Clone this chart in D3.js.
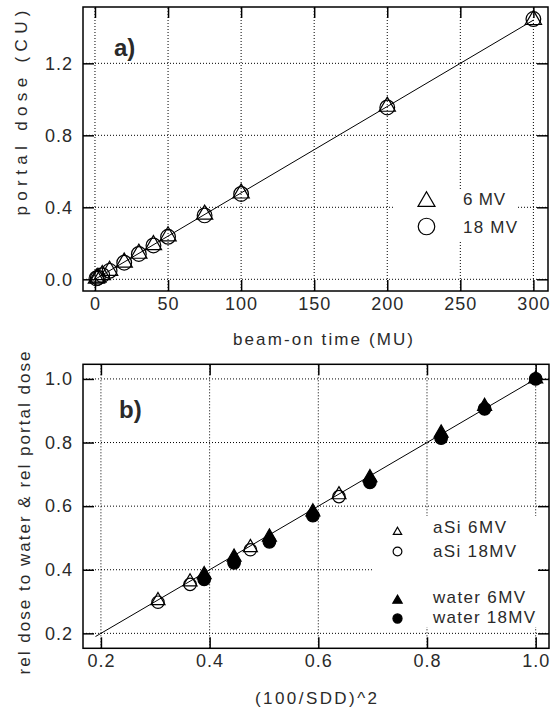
<!DOCTYPE html>
<html>
<head>
<meta charset="utf-8">
<script src="https://cdn.jsdelivr.net/npm/d3@7"></script>
<style>
body { margin: 0; background: #fff; }
text { font-family: "Liberation Sans", Arial, sans-serif; fill: #2a2a2a; }
</style>
</head>
<body>
<svg id="chart" width="551" height="717"></svg>
<script>
// panel a) portal dose against beam-on time
var muValues = [1, 2, 5, 10, 20, 30, 40, 50, 75, 100, 200, 300];
var dose6MV = [0.005, 0.010, 0.024, 0.048, 0.094, 0.143, 0.191, 0.240, 0.360, 0.478, 0.960, 1.442];
var dose18MV = [0.005, 0.009, 0.023, 0.047, 0.092, 0.141, 0.188, 0.236, 0.355, 0.474, 0.955, 1.446];
var fitA = [[0, 0], [300, 1.44]];
var ticksAx = [0, 50, 100, 150, 200, 250, 300];
var ticksAy = [0, 0.4, 0.8, 1.2];

// panel b) relative dose against inverse square of SDD
var sddAsi = [0.305, 0.364, 0.475, 0.638];
var relAsi6 = [0.303, 0.362, 0.470, 0.636];
var relAsi18 = [0.298, 0.354, 0.463, 0.630];
var sddWater = [0.390, 0.445, 0.510, 0.590, 0.695, 0.826, 0.906, 1.0];
var relWater6 = [0.385, 0.440, 0.503, 0.582, 0.690, 0.830, 0.914, 1.0];
var relWater18 = [0.370, 0.422, 0.488, 0.570, 0.675, 0.814, 0.906, 1.0];
var fitB = [[0.19, 0.19], [1.0, 1.0]];
var ticksB = [0.2, 0.4, 0.6, 0.8, 1.0];

var svg = d3.select("#chart");

function drawPanel(p) {
  var g = svg.append("g");
  var x = p.x, y = p.y;
  var x0 = x.range()[0], x1 = x.range()[1];
  var y0 = y.range()[0], y1 = y.range()[1];

  // dotted grid
  g.selectAll(".gx").data(p.xTicks).enter().append("line")
    .attr("x1", function(d) { return x(d); }).attr("x2", function(d) { return x(d); })
    .attr("y1", y0).attr("y2", y1)
    .attr("stroke", "#000").attr("stroke-dasharray", "1,2");
  g.selectAll(".gy").data(p.yTicks).enter().append("line")
    .attr("y1", function(d) { return y(d); }).attr("y2", function(d) { return y(d); })
    .attr("x1", x0).attr("x2", x1)
    .attr("stroke", "#000").attr("stroke-dasharray", "1,2");

  // legend box hides the grid behind it
  g.append("rect").attr("x", p.legendBox[0]).attr("y", p.legendBox[1])
    .attr("width", p.legendBox[2]).attr("height", p.legendBox[3]).attr("fill", "#fff");

  // axes with inward ticks on all four sides
  g.append("g").attr("transform", "translate(0," + y0 + ")")
    .call(d3.axisBottom(x).tickValues(p.xTicks).tickFormat(p.fmt).tickSizeInner(-11).tickSizeOuter(0).tickPadding(6));
  g.append("g").attr("transform", "translate(0," + y1 + ")")
    .call(d3.axisTop(x).tickValues(p.xTicks).tickFormat("").tickSizeInner(-11).tickSizeOuter(0));
  g.append("g").attr("transform", "translate(" + x0 + ",0)")
    .call(d3.axisLeft(y).tickValues(p.yTicks).tickFormat(d3.format(".1f")).tickSizeInner(-11).tickSizeOuter(0).tickPadding(10));
  g.append("g").attr("transform", "translate(" + x1 + ",0)")
    .call(d3.axisRight(y).tickValues(p.yTicks).tickFormat("").tickSizeInner(-11).tickSizeOuter(0));
  g.selectAll(".domain").remove();
  g.selectAll(".tick line").attr("stroke", "#000").attr("stroke-width", 1.5);
  g.selectAll(".tick text").attr("font-size", 18).attr("letter-spacing", 1)
    .attr("font-family", "Liberation Sans, Arial, sans-serif").attr("fill", "#2a2a2a");

  // frame
  g.append("rect").attr("x", x0).attr("y", y1).attr("width", x1 - x0).attr("height", y0 - y1)
    .attr("fill", "none").attr("stroke", "#000").attr("stroke-width", 1.5);

  // fit line
  g.append("path").datum(p.fit)
    .attr("d", d3.line().x(function(d) { return x(d[0]); }).y(function(d) { return y(d[1]); }))
    .attr("fill", "none").attr("stroke", "#000").attr("stroke-width", 1);

  // markers
  p.series.forEach(function(s) {
    var sym = d3.symbol().type(s.shape).size(s.size);
    g.selectAll(null).data(s.xs).enter().append("path")
      .attr("d", sym)
      .attr("transform", function(d, i) { return "translate(" + x(d) + "," + y(s.ys[i]) + ")"; })
      .attr("fill", s.filled ? "#000" : "none")
      .attr("stroke", "#000").attr("stroke-width", 1.2);
  });

  // legend entries
  p.legend.forEach(function(l) {
    g.append("path").attr("d", d3.symbol().type(l.shape).size(l.size))
      .attr("transform", "translate(" + l.mx + "," + l.my + ")")
      .attr("fill", l.filled ? "#000" : "none").attr("stroke", "#000").attr("stroke-width", 1.2);
    g.append("text").attr("x", l.tx).attr("y", l.ty).attr("font-size", 17)
      .attr("textLength", l.w).attr("lengthAdjust", "spacing").text(l.label);
  });

  // panel letter
  g.append("text").attr("x", p.letter[0]).attr("y", p.letter[1])
    .attr("font-size", 24).attr("font-weight", "bold").attr("fill", "#000").text(p.letter[2]);

  // axis titles
  g.append("text").attr("x", p.xTitle[0]).attr("y", p.xTitle[1]).attr("text-anchor", "middle")
    .attr("font-size", 17).attr("textLength", p.xTitle[2]).attr("lengthAdjust", "spacing")
    .text(p.xTitle[3]);
  g.append("text").attr("transform", "translate(" + p.yTitle[0] + "," + p.yTitle[1] + ") rotate(-90)")
    .attr("text-anchor", "middle").attr("font-size", 17)
    .attr("textLength", p.yTitle[2]).attr("lengthAdjust", "spacing")
    .text(p.yTitle[3]);
}

drawPanel({
  x: d3.scaleLinear().domain([-8.2, 310]).range([83, 548]),
  y: d3.scaleLinear().domain([-0.065, 1.513]).range([291, 7]),
  xTicks: ticksAx,
  yTicks: ticksAy,
  fmt: d3.format("d"),
  fit: fitA,
  series: [
    { xs: muValues, ys: dose6MV, shape: d3.symbolTriangle, size: 115, filled: false },
    { xs: muValues, ys: dose18MV, shape: d3.symbolCircle, size: 170, filled: false }
  ],
  legendBox: [393, 190, 125, 50],
  legend: [
    { shape: d3.symbolTriangle, size: 125, filled: false, mx: 426.5, my: 201.5, tx: 463, ty: 205, w: 42, label: "6 MV" },
    { shape: d3.symbolCircle, size: 215, filled: false, mx: 426.5, my: 226.5, tx: 463, ty: 233, w: 54, label: "18 MV" }
  ],
  letter: [114, 56, "a)"],
  xTitle: [323, 345, 180, "beam-on time (MU)"],
  yTitle: [27, 113, 205, "portal dose (CU)"]
});

drawPanel({
  x: d3.scaleLinear().domain([0.167, 1.0245]).range([83, 549]),
  y: d3.scaleLinear().domain([0.153, 1.046]).range([648.3, 364.3]),
  xTicks: ticksB,
  yTicks: ticksB,
  fmt: d3.format(".1f"),
  fit: fitB,
  series: [
    { xs: sddAsi, ys: relAsi18, shape: d3.symbolCircle, size: 120, filled: false },
    { xs: sddAsi, ys: relAsi6, shape: d3.symbolTriangle, size: 85, filled: false },
    { xs: sddWater, ys: relWater18, shape: d3.symbolCircle, size: 125, filled: true },
    { xs: sddWater, ys: relWater6, shape: d3.symbolTriangle, size: 85, filled: true }
  ],
  legendBox: [372, 516, 166, 111],
  legend: [
    { shape: d3.symbolTriangle, size: 30, filled: false, mx: 397.5, my: 532, tx: 433, ty: 533, w: 73, label: "aSi 6MV" },
    { shape: d3.symbolCircle, size: 60, filled: false, mx: 397.5, my: 551.5, tx: 433, ty: 556.5, w: 83, label: "aSi 18MV" },
    { shape: d3.symbolTriangle, size: 38, filled: true, mx: 397.5, my: 600.5, tx: 433, ty: 603, w: 92, label: "water 6MV" },
    { shape: d3.symbolCircle, size: 65, filled: true, mx: 397.5, my: 618.5, tx: 433, ty: 622.5, w: 102, label: "water 18MV" }
  ],
  letter: [119, 418, "b)"],
  xTitle: [316, 704, 122, "(100/SDD)^2"],
  yTitle: [30, 513, 323, "rel dose to water & rel portal dose"]
});
</script>
</body>
</html>
